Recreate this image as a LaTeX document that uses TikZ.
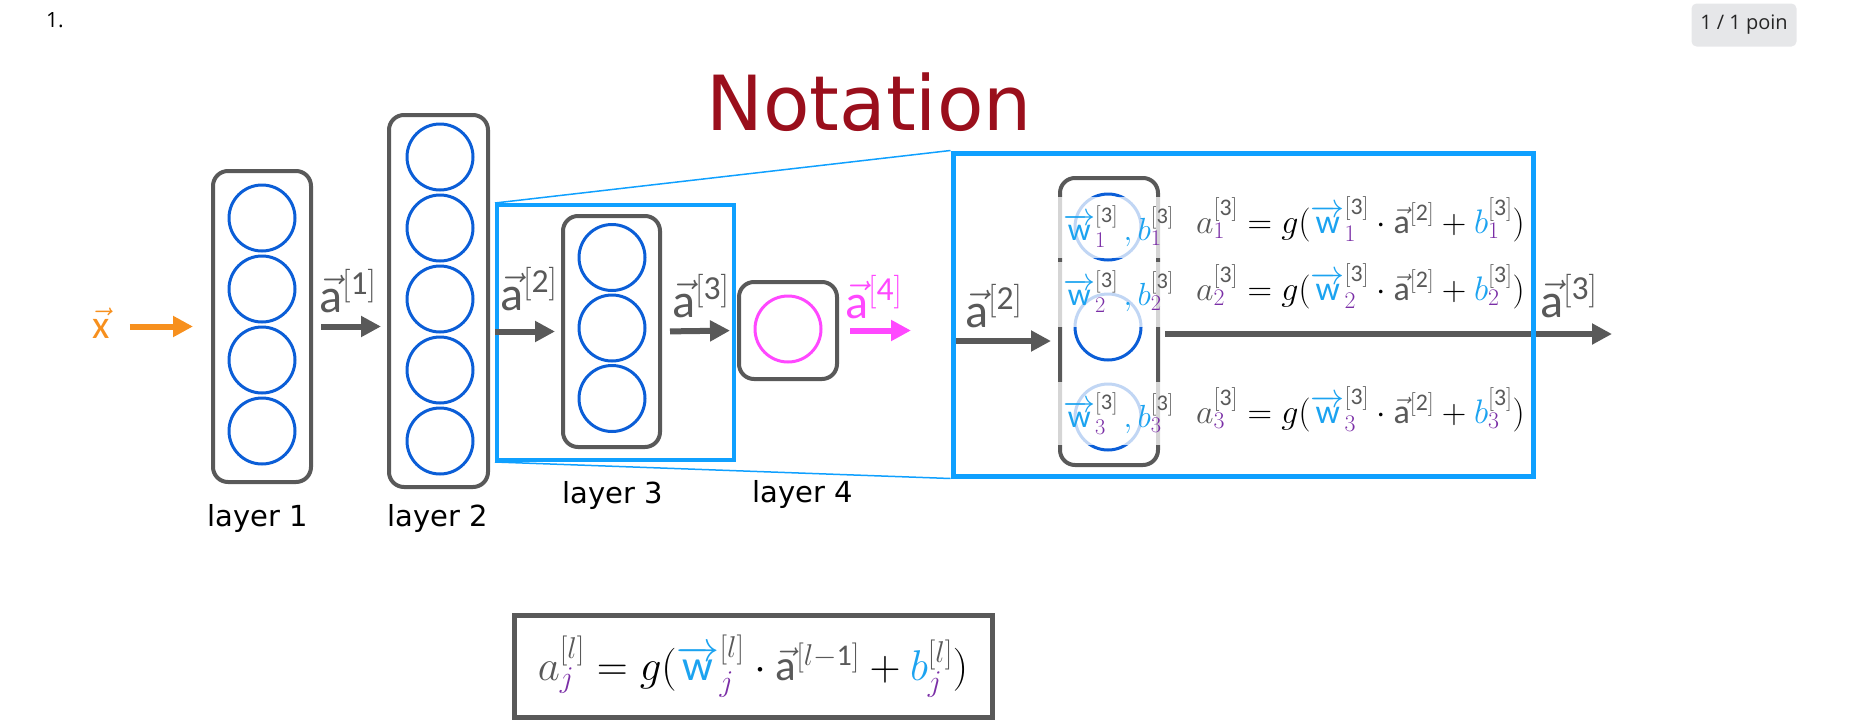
\RequirePackage{fix-cm}
\documentclass[tikz,border=0pt]{standalone}
\usepackage{fontspec}
\setsansfont{Carlito}
\newfontfamily\layerfont{DejaVu Sans}
\newfontfamily\uifont{Open Sans}
\usetikzlibrary{arrows.meta}
\definecolor{BoxGray}{HTML}{595959}
\definecolor{NeuronBlue}{HTML}{0B5ED7}
\definecolor{ZoomBlue}{HTML}{0FA0FF}
\definecolor{ParamBlue}{HTML}{1CA3F0}
\definecolor{IdxPurple}{HTML}{7A2EA6}
\definecolor{OutMagenta}{HTML}{FF48FF}
\definecolor{InOrange}{HTML}{F7901E}
\definecolor{TitleRed}{HTML}{9A0F1C}
\definecolor{BadgeGray}{HTML}{E6E7E9}
\newcommand{\va}{\vec{\mathsf{a}}}
\newcommand{\vw}{\overrightarrow{\mathsf{w}}}
\newcommand{\cl}[2]{{{\color{#1}#2}}}
\newcommand{\layidx}[1]{^{\cl{BoxGray}{\mathsf{[#1]}}}}
\newcommand{\lbr}{\mathsf{[}l\mathsf{]}}
\newcommand{\params}[1]{\cl{ParamBlue}{\vw}_{\cl{IdxPurple}{#1}}\layidx{3}\,\cl{ParamBlue}{,}\,\cl{ParamBlue}{b}_{\cl{IdxPurple}{#1}}\layidx{3}}
\newcommand{\unitrow}[1]{\cl{BoxGray}{a}_{\cl{IdxPurple}{#1}}\layidx{3}= g(\cl{ParamBlue}{\vw}_{\cl{IdxPurple}{#1}}\layidx{3}\cdot\cl{BoxGray}{\va^{\mathsf{[2]}}}+\cl{ParamBlue}{b}_{\cl{IdxPurple}{#1}}\layidx{3})}

\begin{document}
\begin{tikzpicture}[x=1pt, y=-1pt,
    layerbox/.style={draw=BoxGray, line width=4pt, rounded corners=15pt, inner sep=0pt},
    neuron/.style={circle, draw=NeuronBlue, line width=3pt, minimum size=66pt, inner sep=0pt},
    flow/.style={line width=6pt, -{Triangle[length=20pt,width=20pt]}},
    caption/.style={font=\layerfont\fontsize{29}{32}\selectfont, anchor=base, inner sep=0pt},
    actlabel/.style={font=\fontsize{48}{52}\selectfont, anchor=base west, text=BoxGray, inner sep=0pt},
    eqtext/.style={font=\fontsize{34}{38}\selectfont, anchor=base west, inner sep=0pt},
    zoomframe/.style={draw=ZoomBlue, inner sep=0pt},
    fade/.style={fill=white, opacity=0.75}]
  \useasboundingbox (0,0) rectangle (1856,723);

  % header
  \node[font=\uifont\fontsize{21}{24}\selectfont] (qnum) at (55,20) {1.};
  \node[fill=BadgeGray, rounded corners=5pt, minimum width=105pt, minimum height=43pt,
        font=\uifont\fontsize{20}{24}\selectfont, text=black!85] (score) at (1744,25) {1 / 1 poin};
  \node[font=\layerfont\fontsize{76}{80}\selectfont, text=TitleRed, anchor=base] (title) at (869,130) {Notation};

  % layers
  \node[layerbox, minimum width=98pt, minimum height=311pt] (l1) at (262,326.5) {};
  \foreach \i in {1,...,4} \node[neuron] (l1n\i) at (262,{147+71*\i}) {};
  \node[layerbox, minimum width=99pt, minimum height=372pt] (l2) at (438.5,301) {};
  \foreach \i in {1,...,5} \node[neuron] (l2n\i) at (440,{86+71*\i}) {};
  \node[layerbox, minimum width=97pt, minimum height=231pt] (l3) at (611.5,331.5) {};
  \foreach \i in {1,...,3} \node[neuron] (l3n\i) at (612,{187+70.5*\i}) {};
  \node[layerbox, minimum width=98pt, minimum height=97pt] (l4) at (788,330.5) {};
  \node[neuron, draw=OutMagenta] (l4n1) at (788,329) {};

  \node[caption] (cap1) at (258,526) {layer 1};
  \node[caption] (cap2) at (438,526) {layer 2};
  \node[caption] (cap3) at (613,503) {layer 3};
  \node[caption] (cap4) at (803,502) {layer 4};

  % selection of layer 3
  \node[zoomframe, line width=4pt, minimum width=237pt, minimum height=255pt] (sel) at (615.5,332.5) {};

  % activations between layers
  \node[text=InOrange, font=\fontsize{40}{44}\selectfont, anchor=base, inner sep=0pt] (xin) at (101,338) {$\vec{\mathsf{x}}$};
  \draw[flow, InOrange, shorten <=20pt, shorten >=18pt] (xin.east |- l1.west) -- (l1.west);
  \draw[flow, BoxGray, shorten <=8pt, shorten >=6pt] (l1.east) -- (l2.west |- l1.east);
  \draw[flow, BoxGray, shorten <=5pt, shorten >=6pt] (l2.east |- l3.west) -- (l3.west);
  \draw[flow, BoxGray, shorten <=8pt, shorten >=7pt] (l3.east) -- (l4.west);
  \coordinate (a4end) at (911,334);
  \draw[flow, OutMagenta, shorten <=11pt] (l4.east) -- (a4end |- l4.east);

  \node[actlabel] (a1lbl) at (319,312) {$\va^{\mathsf{[1]}}$};
  \node[actlabel] (a2lbl) at (500,310) {$\va^{\mathsf{[2]}}$};
  \node[actlabel] (a3lbl) at (672,317) {$\va^{\mathsf{[3]}}$};
  \node[actlabel, text=OutMagenta] (a4lbl) at (845,318) {$\va^{\mathsf{[4]}}$};

  % zoomed view of layer 3
  \node[layerbox, minimum width=98pt, minimum height=287pt] (l3z) at (1109,321.5) {};
  \foreach \i/\y in {1/227,2/327,3/417} \node[neuron] (l3zn\i) at (1108,\y) {};
  \fill[fade] (1054,197) rectangle (1164,258);
  \fill[fade] (1054,262) rectangle (1164,327);
  \fill[fade] (1054,382) rectangle (1164,445);

  \coordinate (zin) at (953,341);
  \draw[flow, BoxGray, shorten >=7pt] (zin) -- (zin -| l3z.west);
  \coordinate (zout) at (1612,334);
  \draw[flow, BoxGray, shorten <=5pt] (l3z.east |- zout) -- (zout);
  \node[actlabel] (zinlbl) at (965,327) {$\va^{\mathsf{[2]}}$};
  \node[actlabel] (zoutlbl) at (1540,317) {$\va^{\mathsf{[3]}}$};

  \node[eqtext, font=\fontsize{32}{36}\selectfont] (p1) at (1063,240) {$\params{1}$};
  \node[eqtext, font=\fontsize{32}{36}\selectfont] (p2) at (1063,305) {$\params{2}$};
  \node[eqtext, font=\fontsize{32}{36}\selectfont] (p3) at (1063,427) {$\params{3}$};
  \node[eqtext] (e1) at (1196,233) {$\unitrow{1}$};
  \node[eqtext] (e2) at (1196,300) {$\unitrow{2}$};
  \node[eqtext] (e3) at (1196,423) {$\unitrow{3}$};

  \node[zoomframe, line width=5pt, minimum width=580pt, minimum height=323pt] (mag) at (1243,314.5) {};
  \draw[ZoomBlue, line width=1.5pt] (sel.north west) -- (mag.north west) (sel.south west) -- (mag.south west);

  % general rule
  \node[draw=BoxGray, line width=5pt, minimum width=478pt, minimum height=102pt, font=\fontsize{43}{48}\selectfont] (general) at (753,666)
    {$\cl{BoxGray}{a}_{\cl{IdxPurple}{j}}^{\cl{BoxGray}{\lbr}} = g(\cl{ParamBlue}{\vw}_{\cl{IdxPurple}{j}}^{\cl{BoxGray}{\lbr}}\cdot\cl{BoxGray}{\va^{\mathsf{[}l-\mathsf{1]}}}+\cl{ParamBlue}{b}_{\cl{IdxPurple}{j}}^{\cl{BoxGray}{\lbr}})$};
\end{tikzpicture}
\end{document}
